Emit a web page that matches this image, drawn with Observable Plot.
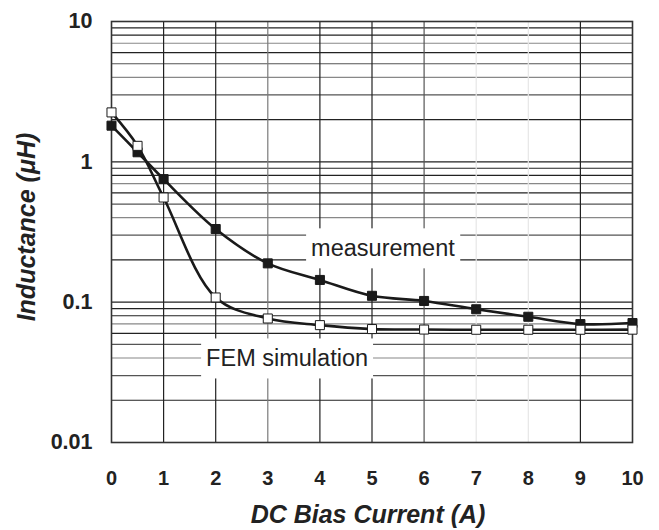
<!DOCTYPE html>
<html>
<head>
<meta charset="utf-8">
<script src="https://cdn.jsdelivr.net/npm/d3@7"></script>
<script src="https://cdn.jsdelivr.net/npm/@observablehq/plot@0.6"></script>
<style>
  html, body { margin: 0; padding: 0; background: #fff; }
  #chart { width: 659px; height: 530px; }
</style>
</head>
<body>
<div id="chart"></div>
<script>
// ---- data ----
const current = [0, 0.5, 1, 2, 3, 4, 5, 6, 7, 8, 9, 10];
const measurement = [1.81, 1.17, 0.753, 0.332, 0.189, 0.144, 0.111, 0.102, 0.089, 0.0787, 0.0698, 0.071];
const femSimulation = [2.25, 1.30, 0.557, 0.108, 0.0765, 0.0686, 0.0643, 0.0638, 0.0636, 0.0636, 0.0636, 0.0637];
const xTicks = [0, 1, 2, 3, 4, 5, 6, 7, 8, 9, 10];
const yTicks = [0.01, 0.1, 1, 10];
const yTickLabels = ["0.01", "0.1", "1", "10"];
const seriesNames = ["measurement", "FEM simulation"];
const labelPos = [{x: 5.21, y: 0.24}, {x: 3.37, y: 0.0394}];
const xTitle = "DC Bias Current (A)";
const yTitle = "Inductance (\u03BCH)";

// ---- derived tables ----
const measRows = current.map((x, i) => ({x, y: measurement[i]}));
const femRows = current.map((x, i) => ({x, y: femSimulation[i]}));
const yGrid = [];
for (const d of [0.01, 0.1, 1]) for (let k = 1; k <= 9; k++) yGrid.push(+(d * k).toPrecision(3));
const labels = seriesNames.map((t, i) => ({text: t, ...labelPos[i]}));

// gridline shading (style only)
const xGridShade = v => (v === 7 || v === 8) ? "#e6e6e6" : (v === 3 ? "#7a7a7a" : (v === 6 ? "#555" : "#222"));
const yGridShade = v => {
  const m = Math.round(v / Math.pow(10, Math.floor(Math.log10(v) + 1e-9)));
  return (m === 7 || m === 4) ? "#888" : (m === 5 || m === 3) ? "#555" : "#222";
};
const ink = "#1a1a1a";

const chart = Plot.plot({
  width: 659,
  height: 530,
  marginLeft: 111,
  marginRight: 27,
  marginTop: 21,
  marginBottom: 88,
  style: {fontFamily: "Liberation Sans, Arial, sans-serif", background: "#fff", color: "#222"},
  x: {domain: [0, 10], type: "linear"},
  y: {type: "log", domain: [0.01, 10]},
  marks: [
    Plot.ruleY(yGrid, {y: d => d, stroke: d => yGridShade(d), strokeWidth: 1.2}),
    Plot.ruleX(xTicks.slice(1, -1), {x: d => d, stroke: d => xGridShade(d), strokeWidth: 1.2}),
    Plot.text(labels, {x: "x", y: "y", text: "text", fontSize: 23.5, fill: "#222", className: "serieslabel"}),
    Plot.frame({stroke: "#333", strokeWidth: 1.6}),
    Plot.axisX(xTicks, {tickSize: 0, tickPadding: 28, fontSize: 20, fontWeight: "bold", label: null}),
    Plot.axisY(yTicks, {tickSize: 0, tickPadding: 19, fontSize: 21.5, fontWeight: "bold", label: null,
      tickFormat: (d) => yTickLabels[yTicks.indexOf(d)]}),
    Plot.text([xTitle], {frameAnchor: "bottom", dx: -4, dy: 80, text: d => d, fontSize: 25, fontWeight: "bold", fontStyle: "italic", fill: "#222"}),
    Plot.text([yTitle], {frameAnchor: "left", textAnchor: "middle", dx: -85, dy: -5, rotate: -90, text: d => d, fontSize: 25, fontWeight: "bold", fontStyle: "italic", fill: "#222"}),
    Plot.line(femRows, {x: "x", y: "y", curve: "catmull-rom", stroke: ink, strokeWidth: 2.6}),
    Plot.line(measRows, {x: "x", y: "y", curve: "catmull-rom", stroke: ink, strokeWidth: 2.6}),
    Plot.dot(measRows, {x: "x", y: "y", symbol: "square", r: 5.1, fill: ink, stroke: ink, strokeWidth: 1}),
    Plot.dot(femRows, {x: "x", y: "y", symbol: "square", r: 5.1, fill: "#fff", stroke: ink, strokeWidth: 1})
  ]
});

document.getElementById("chart").appendChild(chart);

// white boxes behind the series labels (interrupting the grid)
chart.querySelectorAll("g.serieslabel text, .serieslabel text").forEach(t => {
  const b = t.getBBox();
  const r = document.createElementNS("http://www.w3.org/2000/svg", "rect");
  r.setAttribute("x", b.x - 5);
  r.setAttribute("y", b.y - 7);
  r.setAttribute("width", b.width + 10);
  r.setAttribute("height", b.height + 14);
  r.setAttribute("fill", "#fff");
  const tr = t.getAttribute("transform");
  if (tr) r.setAttribute("transform", tr);
  t.parentNode.insertBefore(r, t);
});
</script>
</body>
</html>
